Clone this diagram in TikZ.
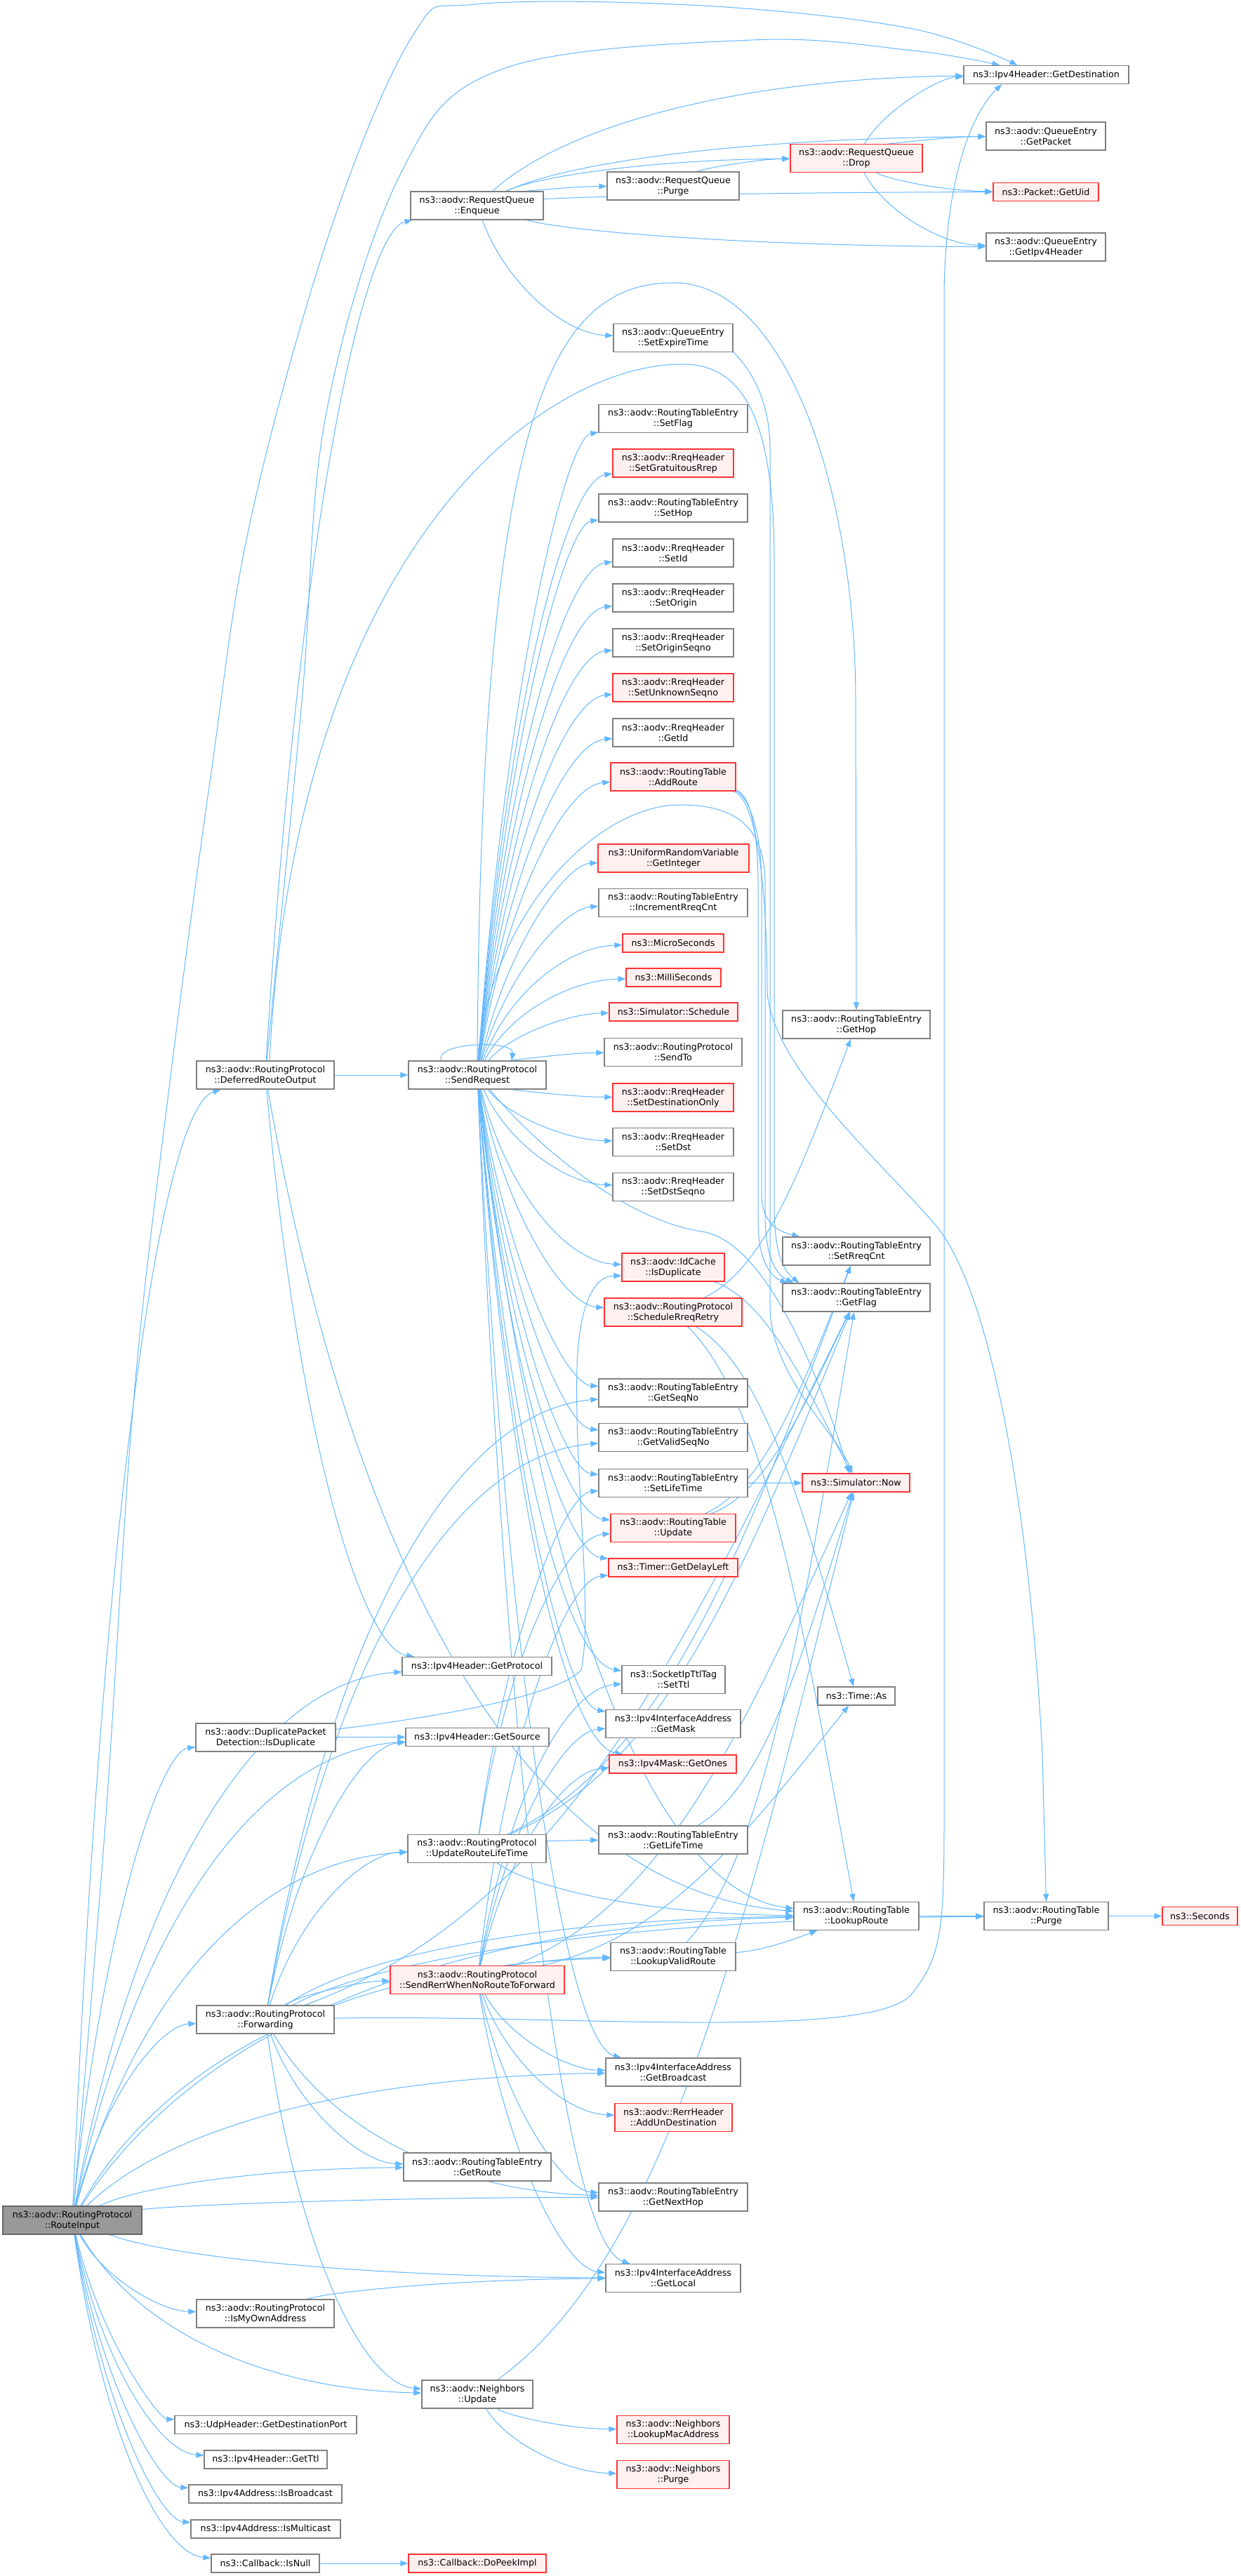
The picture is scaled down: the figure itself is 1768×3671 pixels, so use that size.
\documentclass[tikz,border=0pt]{standalone}
\usepackage{fontspec}
\setmainfont{DejaVu Sans}
\usetikzlibrary{arrows.meta,calc}
\definecolor{edgec}{HTML}{63B8FF}
\definecolor{nbord}{HTML}{808080}
\definecolor{rfill}{HTML}{FFF0F0}
\definecolor{rbord}{HTML}{FF3333}
\definecolor{rootf}{HTML}{999999}
\definecolor{rootb}{HTML}{666666}
\pgfdeclarelayer{bg}
\pgfsetlayers{bg,main}
\tikzset{
 box/.style={draw=nbord, line width=1.2pt, fill=white, inner sep=0pt, align=center, font=\fontsize{12.7}{15}\selectfont},
 rbox/.style={box, draw=rbord, fill=rfill},
 rootbox/.style={box, draw=rootb, fill=rootf},
 edge/.style={draw=edgec, line width=1pt, -{Triangle[length=11pt,width=8pt]}}
}
\newcommand\N[7]{\node[#6, minimum width=#4pt, minimum height=#5pt] (#1) at (#2,#3) {#7};}
\newcommand\E[2]{\draw[edge] let \p1=(#1), \p2=(#2) in (#1) .. controls ({\x1+0.15*(\x2-\x1)},{\y1+0.6*(\y2-\y1)}) and ({\x2-0.55*(\x2-\x1)},{\y2-0.03*(\y2-\y1)}) .. (#2);}
\newcommand\F[2]{\draw[edge] let \p1=(#1), \p2=(#2) in (#1) .. controls ({\x1+0.5*(\x2-\x1)},{\y1+0.15*(\y2-\y1)}) and ({\x2-0.3*(\x2-\x1)},{\y2-0.5*(\y2-\y1)}) .. (#2);}
\begin{document}
\begin{tikzpicture}[x=1pt,y=-1pt]
\begin{pgfonlayer}{bg}
\fill[white] (0,0) rectangle (1768,3671);
\end{pgfonlayer}
\useasboundingbox (0,0) rectangle (1768,3671);
% column 0/1
\N{ri}{103}{3164}{198}{40}{rootbox}{ns3::aodv::RoutingProtocol\\::RouteInput}
\N{dro}{378}{1532}{196}{40}{box}{ns3::aodv::RoutingProtocol\\::DeferredRouteOutput}
\N{dpd}{378.5}{2476}{199}{40}{box}{ns3::aodv::DuplicatePacket\\Detection::IsDuplicate}
\N{fwd}{378}{2878}{196}{40}{box}{ns3::aodv::RoutingProtocol\\::Forwarding}
\N{imoa}{378}{3297}{196}{40}{box}{ns3::aodv::RoutingProtocol\\::IsMyOwnAddress}
\N{udp}{378.5}{3455.5}{259}{26}{box}{ns3::UdpHeader::GetDestinationPort}
\N{ttl}{378.5}{3505}{175}{26}{box}{ns3::Ipv4Header::GetTtl}
\N{isb}{378}{3554}{218}{26}{box}{ns3::Ipv4Address::IsBroadcast}
\N{ism}{378.5}{3604}{213}{26}{box}{ns3::Ipv4Address::IsMulticast}
\N{isnull}{378}{3653}{154}{26}{box}{ns3::Callback::IsNull}
% column 2
\N{enq}{679.5}{293}{189}{40}{box}{ns3::aodv::RequestQueue\\::Enqueue}
\N{sr}{680}{1532}{196}{40}{box}{ns3::aodv::RoutingProtocol\\::SendRequest}
\N{gproto}{679.5}{2374.5}{213}{26}{box}{ns3::Ipv4Header::GetProtocol}
\N{gsrc}{680}{2475.5}{204}{26}{box}{ns3::Ipv4Header::GetSource}
\N{urlt}{679.5}{2634.5}{197}{40}{box}{ns3::aodv::RoutingProtocol\\::UpdateRouteLifeTime}
\N{serr}{680}{2821.5}{248}{40}{rbox}{ns3::aodv::RoutingProtocol\\::SendRerrWhenNoRouteToForward}
\N{groute}{680}{3088}{210}{40}{box}{ns3::aodv::RoutingTableEntry\\::GetRoute}
\N{nbupd}{680}{3412}{158}{40}{box}{ns3::aodv::Neighbors\\::Update}
\N{dopeek}{680}{3653}{196}{26}{rbox}{ns3::Callback::DoPeekImpl}
% column 3
\N{rqpurge}{959}{265}{188}{40}{box}{ns3::aodv::RequestQueue\\::Purge}
\N{setexp}{959}{481.5}{170}{40}{box}{ns3::aodv::QueueEntry\\::SetExpireTime}
\N{setflag}{959}{596.5}{212}{40}{box}{ns3::aodv::RoutingTableEntry\\::SetFlag}
\N{setgrat}{959}{660}{172}{40}{rbox}{ns3::aodv::RreqHeader\\::SetGratuitousRrep}
\N{sethop}{959}{724}{212}{40}{box}{ns3::aodv::RoutingTableEntry\\::SetHop}
\N{setid}{959}{788}{172}{40}{box}{ns3::aodv::RreqHeader\\::SetId}
\N{setorigin}{959}{852}{172}{40}{box}{ns3::aodv::RreqHeader\\::SetOrigin}
\N{setoseq}{959}{916}{172}{40}{box}{ns3::aodv::RreqHeader\\::SetOriginSeqno}
\N{setunk}{959}{980}{172}{40}{rbox}{ns3::aodv::RreqHeader\\::SetUnknownSeqno}
\N{getid}{959}{1044}{172}{40}{box}{ns3::aodv::RreqHeader\\::GetId}
\N{addroute}{959}{1107}{178}{40}{rbox}{ns3::aodv::RoutingTable\\::AddRoute}
\N{getint}{959.5}{1223}{215}{40}{rbox}{ns3::UniformRandomVariable\\::GetInteger}
\N{incr}{959}{1286.5}{212}{40}{box}{ns3::aodv::RoutingTableEntry\\::IncrementRreqCnt}
\N{micro}{959}{1344}{144}{26}{rbox}{ns3::MicroSeconds}
\N{milli}{959.5}{1393}{135}{26}{rbox}{ns3::MilliSeconds}
\N{sched}{959.5}{1442}{183}{26}{rbox}{ns3::Simulator::Schedule}
\N{sendto}{959}{1499.5}{196}{40}{box}{ns3::aodv::RoutingProtocol\\::SendTo}
\N{setdonly}{959}{1564}{172}{40}{rbox}{ns3::aodv::RreqHeader\\::SetDestinationOnly}
\N{setdst}{959}{1627.5}{172}{40}{box}{ns3::aodv::RreqHeader\\::SetDst}
\N{setdseq}{959}{1691.5}{172}{40}{box}{ns3::aodv::RreqHeader\\::SetDstSeqno}
\N{idcache}{959}{1806}{146}{40}{rbox}{ns3::aodv::IdCache\\::IsDuplicate}
\N{srr}{959}{1870}{196}{40}{rbox}{ns3::aodv::RoutingProtocol\\::ScheduleRreqRetry}
\N{getseq}{959}{1985}{212}{40}{box}{ns3::aodv::RoutingTableEntry\\::GetSeqNo}
\N{getvseq}{959}{2048.5}{212}{40}{box}{ns3::aodv::RoutingTableEntry\\::GetValidSeqNo}
\N{setlife}{959}{2113.5}{212}{40}{box}{ns3::aodv::RoutingTableEntry\\::SetLifeTime}
\N{rtupd}{959}{2177.5}{178}{40}{rbox}{ns3::aodv::RoutingTable\\::Update}
\N{delay}{959}{2234}{184}{26}{rbox}{ns3::Timer::GetDelayLeft}
\N{setttl}{959.5}{2393.5}{147}{40}{box}{ns3::SocketIpTtlTag\\::SetTtl}
\N{getmask}{959}{2456.5}{192}{40}{box}{ns3::Ipv4InterfaceAddress\\::GetMask}
\N{getones}{958.5}{2514}{181}{26}{rbox}{ns3::Ipv4Mask::GetOnes}
\N{getlife}{959}{2622}{212}{40}{box}{ns3::aodv::RoutingTableEntry\\::GetLifeTime}
\N{lvr}{959}{2788.5}{178}{40}{box}{ns3::aodv::RoutingTable\\::LookupValidRoute}
\N{getbc}{959}{2953}{192}{40}{box}{ns3::Ipv4InterfaceAddress\\::GetBroadcast}
\N{addun}{959.5}{3017.5}{167}{40}{rbox}{ns3::aodv::RerrHeader\\::AddUnDestination}
\N{getnh}{959}{3131}{212}{40}{box}{ns3::aodv::RoutingTableEntry\\::GetNextHop}
\N{getlocal}{959}{3246.5}{192}{40}{box}{ns3::Ipv4InterfaceAddress\\::GetLocal}
\N{lmac}{959}{3462.5}{160}{40}{rbox}{ns3::aodv::Neighbors\\::LookupMacAddress}
\N{nbpurge}{959}{3526.5}{160}{40}{rbox}{ns3::aodv::Neighbors\\::Purge}
% column 4
\N{drop}{1220}{225.5}{188}{40}{rbox}{ns3::aodv::RequestQueue\\::Drop}
\N{gethop}{1220}{1460}{210}{40}{box}{ns3::aodv::RoutingTableEntry\\::GetHop}
\N{setrreq}{1220}{1783}{210}{40}{box}{ns3::aodv::RoutingTableEntry\\::SetRreqCnt}
\N{getflag}{1220}{1849}{210}{40}{box}{ns3::aodv::RoutingTableEntry\\::GetFlag}
\N{now}{1219.5}{2113}{153}{26}{rbox}{ns3::Simulator::Now}
\N{timeas}{1220}{2417}{110}{26}{box}{ns3::Time::As}
\N{lroute}{1220}{2730.5}{178}{40}{box}{ns3::aodv::RoutingTable\\::LookupRoute}
% column 5/6
\N{getdest}{1490.5}{106.5}{235}{26}{box}{ns3::Ipv4Header::GetDestination}
\N{getpkt}{1490}{194}{170}{40}{box}{ns3::aodv::QueueEntry\\::GetPacket}
\N{getuid}{1490}{273.5}{150}{26}{rbox}{ns3::Packet::GetUid}
\N{getv4h}{1490}{352}{170}{40}{box}{ns3::aodv::QueueEntry\\::GetIpv4Header}
\N{rtpurge}{1490.5}{2730.5}{177}{40}{box}{ns3::aodv::RoutingTable\\::Purge}
\N{seconds}{1709.5}{2730.5}{107}{26}{rbox}{ns3::Seconds}

\begin{pgfonlayer}{bg}
% RouteInput
\draw[edge] plot[smooth,tension=0.6] coordinates {([xshift=2pt]ri.north) (150,2600) (190,2000) (241,1550) (301,1100) (357,741) (470,330) (589,49) (679,6) (1000,8) (1295,40) ([xshift=-41pt]getdest.north)};
\foreach \t in {gsrc,dro,imoa,ism,getlocal,getbc,isb,dpd,urlt,isnull,gproto,udp,ttl,lroute,groute,lvr,getnh,nbupd,fwd} {\E{ri}{\t}}
% DeferredRouteOutput
\draw[edge] plot[smooth,tension=0.6] coordinates {([xshift=2pt]dro.north) (430,1000) (464,593) (571,247) (714,99) (1071,57) (1300,72) ([xshift=-66pt]getdest.north)};
\draw[edge] ([xshift=6pt]dro.north) .. controls (420,800) and (760,519) .. (973,519) .. controls (1060,519) and (1103,600) .. (1103,800) -- (1103,1720) .. controls (1103,1790) and (1118,1812) .. ([xshift=24pt]getflag.north west);
\foreach \t in {enq,gproto,lroute,sr} {\E{dro}{\t}}
% DPD
\draw[edge] (dpd) .. controls (600,2450) and (790,2420) .. (828,2380) .. controls (845,2300) and (818,2100) .. (822,1950) .. controls (825,1850) and (850,1818) .. ([yshift=-12pt]idcache.west);
\E{dpd}{gsrc}
% Forwarding
\draw[edge] (fwd) .. controls (800,2870) and (1250,2910) .. (1300,2840) .. controls (1340,2790) and (1345,2750) .. (1345,2600) -- (1345,420) .. controls (1347,230) and (1395,150) .. ([xshift=55pt]getdest.south west);
\foreach \t in {gsrc,rtpurge,lroute,groute,urlt,getnh,nbupd,getvseq,getseq,serr} {\E{fwd}{\t}}
\F{fwd}{getflag}
\E{imoa}{getlocal}
\E{isnull}{dopeek}
% Enqueue / queue
\foreach \t in {rqpurge,getpkt,getuid,getv4h,getdest,setexp,drop} {\E{enq}{\t}}
\E{rqpurge}{drop}
\foreach \t in {getpkt,getuid,getv4h,getdest} {\E{drop}{\t}}
\draw[edge] (setexp) .. controls (1040,500) and (1097,540) .. (1097,640) -- (1097,1860) .. controls (1097,1960) and (1190,2040) .. ([xshift=-5pt]now.north);
% SendRequest
\foreach \t in {sched,delay,micro,setdst,lroute,incr,getvseq,setdseq,getseq,setunk,sethop,setflag,setlife,rtupd,addroute,setgrat,setdonly,setoseq,setid,setorigin,getlocal,idcache,setttl,getmask,getones,getbc,getid,milli,getint,sendto,srr} {\E{sr}{\t}}
\draw[edge] ([xshift=-51pt]sr.north) .. controls +(-12,-26) and +(4,-30) .. ([xshift=49pt]sr.north);
\draw[edge] (sr.north) .. controls (685,600) and (780,403) .. (960,403) .. controls (1120,403) and (1219,700) .. (1219,1000) -- (gethop.north);
\draw[edge] (sr.north) .. controls (700,1300) and (850,1147) .. (969,1147) .. controls (1050,1147) and (1090,1180) .. (1090,1260) -- (1090,1730) .. controls (1090,1800) and (1110,1818) .. ([xshift=16pt]getflag.north west);
\draw[edge] (sr) .. controls (780,1650) and (900,1740) .. (1000,1755) .. controls (1100,1770) and (1180,2000) .. ([xshift=-10pt]now.north);
% AddRoute
\draw[edge] (addroute) .. controls (1060,1130) and (1085,1170) .. (1085,1260) -- (1085,1700) .. controls (1085,1745) and (1110,1755) .. ([xshift=25pt]setrreq.north west);
\draw[edge] (addroute) .. controls (1065,1130) and (1080,1170) .. (1080,1260) -- (1080,1740) .. controls (1080,1800) and (1100,1820) .. ([xshift=8pt]getflag.north west);
\draw[edge] (addroute) .. controls (1075,1135) and (1093,1250) .. (1093,1413) .. controls (1100,1520) and (1250,1650) .. (1333,1746) .. controls (1420,1850) and (1470,2200) .. (1485,2500) -- (rtpurge.north);
% UpdateRouteLifeTime
\foreach \t in {lroute,setlife,getlife,rtupd} {\E{urlt}{\t}}
\F{urlt}{getflag}
\F{urlt}{setrreq}
% SendRerr
\foreach \t in {delay,addun,setttl,lvr,getnh,getlocal,getmask,getones,getbc} {\E{serr}{\t}}
\F{serr}{now}
\F{serr}{timeas}
% Neighbors
\F{nbupd}{now}
\foreach \t in {lmac,nbpurge} {\E{nbupd}{\t}}
% column 3 sources
\F{rtupd}{getflag}
\F{rtupd}{setrreq}
\F{idcache}{now}
\F{srr}{lroute}
\F{srr}{gethop}
\F{srr}{timeas}
\F{setlife}{now}
\F{getlife}{now}
\F{lvr}{lroute}
\F{lvr}{getflag}
\E{lroute}{rtpurge}
\E{rtpurge}{seconds}
\end{pgfonlayer}
\end{tikzpicture}
\end{document}
